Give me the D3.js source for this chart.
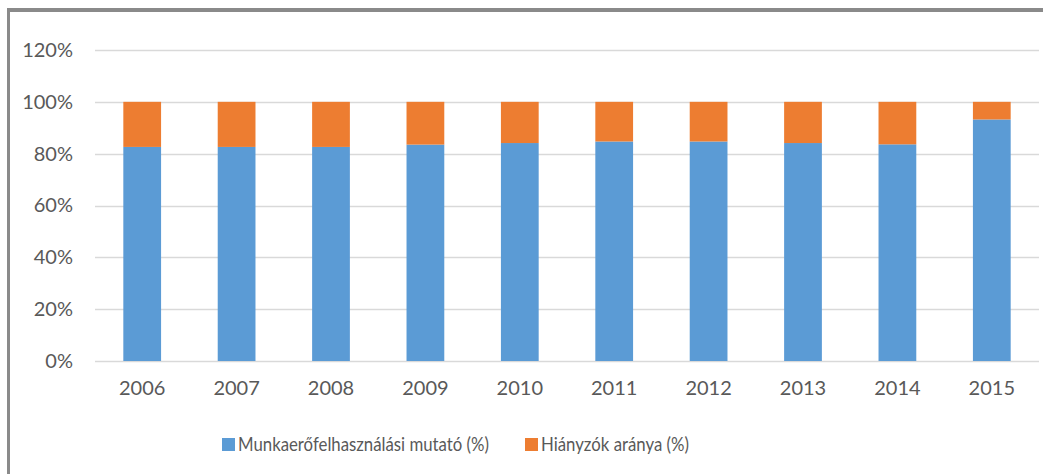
<!DOCTYPE html>
<html>
<head>
<meta charset="utf-8">
<script src="https://cdn.jsdelivr.net/npm/d3@7"></script>
<style>
  body { margin: 0; background: #fff; }
  svg { display: block; }
</style>
</head>
<body>
<svg id="chart" width="1043" height="474"></svg>
<script>
// data
var years = ["2006", "2007", "2008", "2009", "2010", "2011", "2012", "2013", "2014", "2015"];
var utilisation = [82.6, 82.6, 82.6, 83.5, 84.1, 84.7, 84.7, 84.1, 83.6, 93.2];
var absent = utilisation.map(function(v) { return 100 - v; });
var seriesNames = ["Munkaerőfelhasználási mutató (%)", "Hiányzók aránya (%)"];
var seriesColors = ["#5B9BD5", "#ED7D31"];
var yTicks = [0, 20, 40, 60, 80, 100, 120];

var width = 1043, height = 474;
var plotLeft = 95, plotRight = 1039, plotTop = 50, plotBottom = 361;
var font = "Lato, Calibri, sans-serif";

var svg = d3.select("#chart");

// frame border (cropped screenshot edges)
svg.append("line")
  .attr("x1", 8.5).attr("x2", width)
  .attr("y1", 10).attr("y2", 10)
  .attr("stroke", "#8a8a8a").attr("stroke-width", 4);
svg.append("line")
  .attr("x1", 8.5).attr("x2", 8.5)
  .attr("y1", 8).attr("y2", height)
  .attr("stroke", "#8a8a8a").attr("stroke-width", 3);

var x = d3.scaleBand()
  .domain(years)
  .range([plotLeft, plotRight])
  .paddingInner(0.6)
  .paddingOuter(0.3);

var y = d3.scaleLinear()
  .domain([0, 120])
  .range([plotBottom, plotTop]);

// gridlines
svg.append("g")
  .selectAll("line")
  .data(yTicks)
  .join("line")
  .attr("x1", plotLeft).attr("x2", plotRight)
  .attr("y1", function(d) { return Math.round(y(d)) + 0.5; })
  .attr("y2", function(d) { return Math.round(y(d)) + 0.5; })
  .attr("stroke", "#d9d9d9")
  .attr("stroke-width", 1.5);

// y labels
var yAxis = d3.axisLeft(y)
  .tickValues(yTicks)
  .tickSize(0)
  .tickPadding(22)
  .tickFormat(function(d) { return d + "%"; });

svg.append("g")
  .attr("transform", "translate(" + plotLeft + ",0)")
  .call(yAxis)
  .call(function(g) { g.select(".domain").remove(); })
  .selectAll("text")
  .style("font-family", font)
  .style("font-size", "20px")
  .style("fill", "#595959");

// stacked bars
var rows = years.map(function(yr, i) {
  return { year: yr, a: utilisation[i], b: absent[i] };
});
var stack = d3.stack().keys(["a", "b"]);
var layers = stack(rows);

svg.append("g")
  .selectAll("g")
  .data(layers)
  .join("g")
  .attr("fill", function(d, i) { return seriesColors[i]; })
  .selectAll("rect")
  .data(function(d) { return d; })
  .join("rect")
  .attr("x", function(d) { return x(d.data.year); })
  .attr("width", x.bandwidth())
  .attr("y", function(d) { return y(d[1]); })
  .attr("height", function(d) { return y(d[0]) - y(d[1]); });

// x labels
var xAxis = d3.axisBottom(x).tickSize(0).tickPadding(20);
svg.append("g")
  .attr("transform", "translate(0," + plotBottom + ")")
  .call(xAxis)
  .call(function(g) { g.select(".domain").remove(); })
  .selectAll("text")
  .style("font-family", font)
  .style("font-size", "20px")
  .style("fill", "#595959");

// legend (text squeezed to the narrower Calibri widths)
var legendX = [222, 525];
var legendTextLen = [251, 148];
var legend = svg.append("g")
  .selectAll("g")
  .data(seriesNames)
  .join("g")
  .attr("transform", function(d, i) { return "translate(" + legendX[i] + ",438)"; });

legend.append("rect")
  .attr("width", 13)
  .attr("height", 13)
  .attr("fill", function(d, i) { return seriesColors[i]; });

legend.append("text")
  .attr("x", 16)
  .attr("y", 13)
  .attr("textLength", function(d, i) { return legendTextLen[i]; })
  .attr("lengthAdjust", "spacingAndGlyphs")
  .style("font-family", font)
  .style("font-size", "20px")
  .style("fill", "#595959")
  .text(function(d) { return d; });
</script>
</body>
</html>
